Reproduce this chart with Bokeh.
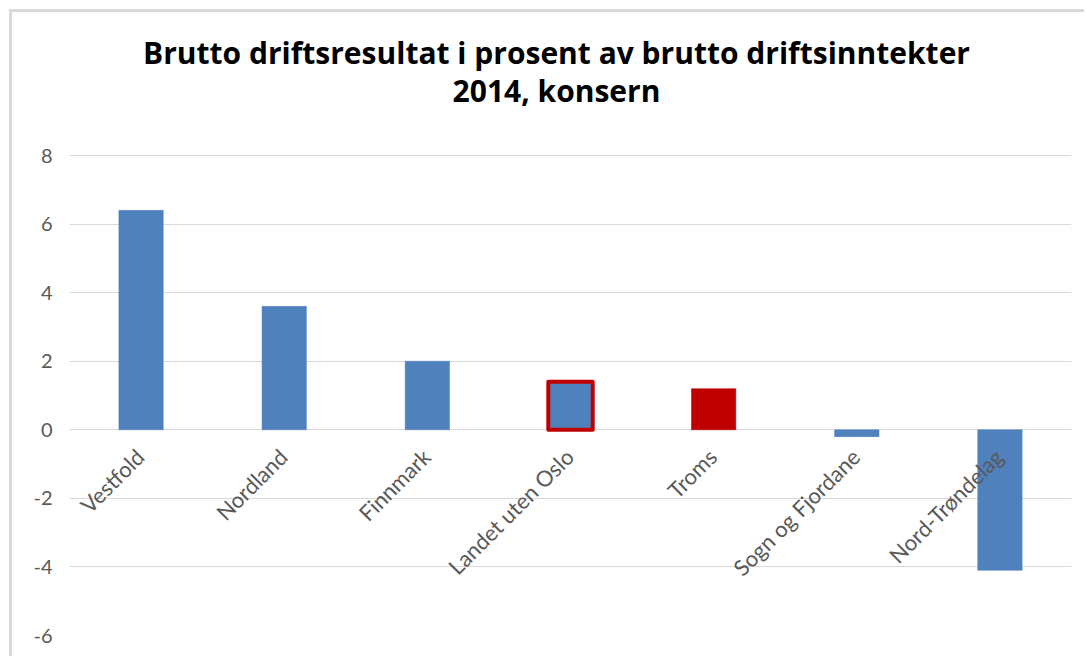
import math
from bokeh.plotting import figure
from bokeh.models import ColumnDataSource, Label, FixedTicker
from bokeh.core.properties import value
from bokeh.embed import file_html
from bokeh.resources import INLINE

categories = ["Vestfold", "Nordland", "Finnmark", "Landet uten Oslo", "Troms",
              "Sogn og Fjordane", "Nord-Trøndelag"]
values = [6.4, 3.6, 2.0, 1.4, 1.2, -0.2, -4.1]
y_ticks = [-6, -4, -2, 0, 2, 4, 6, 8]
title_line1 = "Brutto driftsresultat i prosent av brutto driftsinntekter"
title_line2 = "2014, konsern"

BLUE = "#4f81bd"
RED = "#c00000"
fill_colors = [BLUE, BLUE, BLUE, BLUE, RED, BLUE, BLUE]
line_colors = [BLUE, BLUE, BLUE, RED, RED, BLUE, BLUE]
line_widths = [0.5, 0.5, 0.5, 4, 0.5, 0.5, 0.5]

FONT = "Lato"
TFONT = "Open Sans"

W, H = 1075, 647
PLOT_TOP, PLOT_BOTTOM = 143, 623          # canvas pixels of y=8 and y=-6
y_min, y_max_tick = -6, 8
px_per_unit = (PLOT_BOTTOM - PLOT_TOP) / (y_max_tick - y_min)
y_top = y_max_tick + PLOT_TOP / px_per_unit  # frame extends to canvas top (room for title)

p = figure(x_range=categories, y_range=(y_min, y_top), width=W, height=H,
           output_backend="svg", toolbar_location=None, title=None,
           min_border_left=57, min_border_right=16, min_border_top=0,
           min_border_bottom=H - PLOT_BOTTOM)
p.styles = {"margin-left": "9px", "margin-top": "9px",
            "border-left": "3px solid #d9d9d9", "border-top": "3px solid #d9d9d9"}
p.outline_line_color = None
p.background_fill_color = "white"
p.border_fill_color = "white"

src = ColumnDataSource(dict(cat=categories, val=values, fill=fill_colors,
                            line=line_colors, lw=line_widths,
                            zero=[0] * len(categories)))
p.vbar(x="cat", top="val", bottom=0, width=0.31, source=src,
       fill_color="fill", line_color="line", line_width="lw", line_join="round")

# category labels rotated at the zero line
p.text(x="cat", y="zero", text="cat", source=src, angle=math.pi / 4,
       text_align="right", text_baseline="middle", x_offset=-1, y_offset=23,
       text_font=value(FONT), text_font_size="22px", text_color="#595959")

p.xaxis.visible = False
p.xgrid.grid_line_color = None
p.ygrid.grid_line_color = "#d9d9d9"
p.ygrid.grid_line_width = 1
p.yaxis.ticker = FixedTicker(ticks=y_ticks)
p.yaxis.major_label_overrides = {t: str(t) for t in y_ticks}
p.yaxis.axis_line_color = None
p.yaxis.major_tick_line_color = None
p.yaxis.minor_tick_line_color = None
p.yaxis.major_label_standoff = 11
p.yaxis.major_label_text_font = FONT
p.yaxis.major_label_text_font_size = "20px"
p.yaxis.major_label_text_color = "#595959"

frame_h = PLOT_BOTTOM
t1 = Label(x=487, y=frame_h - 40, x_units="screen", y_units="screen", text=title_line1,
           text_align="center", text_baseline="alphabetic", text_font=TFONT,
           text_font_size="30px", text_font_style="bold", text_color="black")
t2 = Label(x=487, y=frame_h - 78, x_units="screen", y_units="screen", text=title_line2,
           text_align="center", text_baseline="alphabetic", text_font=TFONT,
           text_font_size="30px", text_font_style="bold", text_color="black")
p.add_layout(t1)
p.add_layout(t2)

open("out.html", "w").write(file_html(p, INLINE))
